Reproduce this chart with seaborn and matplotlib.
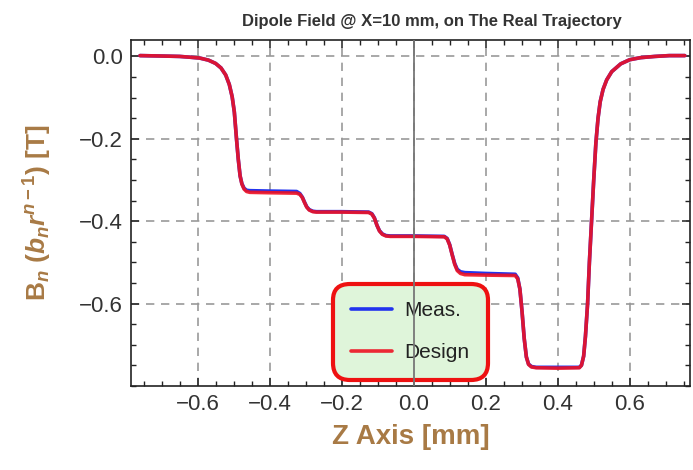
import matplotlib
matplotlib.use("Agg")
import matplotlib.pyplot as plt
import seaborn as sns
import pandas as pd
from matplotlib.ticker import MultipleLocator

# ---- data ----
z_design = [
    -0.76, -0.70, -0.65, -0.62, -0.594, -0.57, -0.55, -0.535, -0.522, -0.512,
    -0.504, -0.498, -0.492, -0.487, -0.482, -0.477, -0.471, -0.464, -0.455, -0.40,
    -0.325,
    -0.316, -0.309, -0.303, -0.297, -0.29, -0.28, -0.27, -0.20, -0.125,
    -0.116, -0.109, -0.102, -0.095, -0.087, -0.077, -0.065, 0.0, 0.085,
    0.093, 0.100, 0.107, 0.114, 0.121, 0.130, 0.142, 0.20, 0.282,
    0.289, 0.295, 0.301, 0.307, 0.313, 0.319, 0.327, 0.34, 0.40, 0.46,
    0.466, 0.472, 0.477, 0.483, 0.488, 0.494, 0.500, 0.506, 0.512, 0.518,
    0.526, 0.536, 0.55, 0.575, 0.60, 0.63, 0.67, 0.71, 0.753]
b_design = [
    0.002, 0.001, 0.0, -0.002, -0.004, -0.009, -0.017, -0.028, -0.045, -0.068,
    -0.098, -0.135, -0.20, -0.25, -0.29, -0.31, -0.322, -0.328, -0.330, -0.331,
    -0.332,
    -0.335, -0.343, -0.355, -0.366, -0.373, -0.377, -0.378, -0.378, -0.379,
    -0.383, -0.393, -0.41, -0.424, -0.432, -0.436, -0.437, -0.437, -0.438,
    -0.443, -0.458, -0.482, -0.505, -0.52, -0.527, -0.530, -0.531, -0.532,
    -0.540, -0.565, -0.62, -0.685, -0.73, -0.748, -0.754, -0.756, -0.757, -0.756,
    -0.75, -0.728, -0.68, -0.60, -0.50, -0.40, -0.30, -0.21, -0.15, -0.11,
    -0.08, -0.057, -0.037, -0.018, -0.008, -0.003, 0.0, 0.002, 0.002]

z_meas = z_design
b_meas = [
    0.002, 0.001, 0.0, -0.002, -0.004, -0.009, -0.017, -0.028, -0.045, -0.068,
    -0.098, -0.135, -0.20, -0.25, -0.29, -0.309, -0.320, -0.325, -0.326, -0.327,
    -0.328,
    -0.333, -0.342, -0.354, -0.365, -0.372, -0.376, -0.377, -0.377, -0.378,
    -0.382, -0.392, -0.41, -0.423, -0.431, -0.435, -0.436, -0.436, -0.437,
    -0.442, -0.457, -0.481, -0.503, -0.517, -0.523, -0.525, -0.527, -0.529,
    -0.538, -0.565, -0.62, -0.685, -0.73, -0.747, -0.753, -0.755, -0.755, -0.755,
    -0.75, -0.728, -0.68, -0.60, -0.50, -0.40, -0.30, -0.21, -0.15, -0.11,
    -0.08, -0.057, -0.037, -0.018, -0.008, -0.003, 0.0, 0.002, 0.002]

x_ticks = [-0.6, -0.4, -0.2, 0.0, 0.2, 0.4, 0.6]
y_ticks = [0.0, -0.2, -0.4, -0.6]

title = "Dipole Field @ X=10 mm, on The Real Trajectory"
xlabel = "Z Axis [mm]"
ylabel = r"$\mathrm{B}_n$ $(b_n r^{n-1})$ [T]"

# ---- styling ----
sns.set_style("ticks")
plt.rcParams['font.family'] = ['Liberation Sans', 'DejaVu Sans']
plt.rcParams['mathtext.fontset'] = 'custom'
plt.rcParams['mathtext.rm'] = 'Liberation Sans:bold'
plt.rcParams['mathtext.it'] = 'Liberation Sans:italic:bold'
plt.rcParams['mathtext.bf'] = 'Liberation Sans:bold'

brown = '#a87a45'

fig = plt.figure(figsize=(6.93, 4.70), dpi=100)
ax = fig.add_axes([0.189, 0.179, 0.807, 0.736])

df_meas = pd.DataFrame({"z": z_meas, "B": b_meas})
df_des = pd.DataFrame({"z": z_design, "B": b_design})

sns.lineplot(data=df_meas, x="z", y="B", ax=ax, color="#2233ee", lw=2.6,
             label="Meas.", zorder=3, sort=False)
sns.lineplot(data=df_des, x="z", y="B", ax=ax, color="#ee1122", lw=2.6,
             label="Design", zorder=4, alpha=0.9, sort=False)

ax.set_xlim(-0.785, 0.768)
ax.set_ylim(-0.80, 0.04)
ax.set_xticks(x_ticks)
ax.set_yticks(y_ticks)
fmt = lambda t: (f"\u2212{abs(t):.1f}" if t < 0 else f"{t:.1f}")
ax.set_xticklabels([fmt(t) for t in x_ticks])
ax.set_yticklabels([fmt(t) for t in y_ticks])
ax.xaxis.set_minor_locator(MultipleLocator(0.05))
ax.yaxis.set_minor_locator(MultipleLocator(0.05))
ax.tick_params(which='both', direction='in', top=True, right=True, color='#222')
ax.tick_params(which='major', length=6, width=1.1, labelsize=16, labelcolor='#333', pad=6)
ax.tick_params(which='minor', length=3.5, width=1.0)
for s in ax.spines.values():
    s.set_color('#222')
    s.set_linewidth(1.2)

ax.grid(True, which='major', ls=(0, (5, 4)), color='#999999', lw=1.2)
ax.axvline(0, color='#777777', lw=1.3, zorder=6)

ax.set_title(title, fontsize=12, fontweight='bold', color='#333', pad=10, x=0.538)
ax.set_xlabel(xlabel, fontsize=20, fontweight='bold', color=brown, labelpad=6)
ax.set_ylabel(ylabel, fontsize=19, fontweight='bold', color=brown, labelpad=18)

leg = ax.legend(loc='lower left', bbox_to_anchor=(0.361, 0.017), borderaxespad=0,
                fontsize=15, frameon=True, fancybox=True, handlelength=2.0,
                handletextpad=0.6, borderpad=0.85, labelspacing=1.1, framealpha=1.0)
frame = leg.get_frame()
frame.set_facecolor('#dff5da')
frame.set_edgecolor('#ee1111')
frame.set_linewidth(3)
frame.set_boxstyle('round', pad=0.0, rounding_size=0.8)
for t in leg.get_texts():
    t.set_color('#222')

fig.savefig("out.png", dpi=100)
